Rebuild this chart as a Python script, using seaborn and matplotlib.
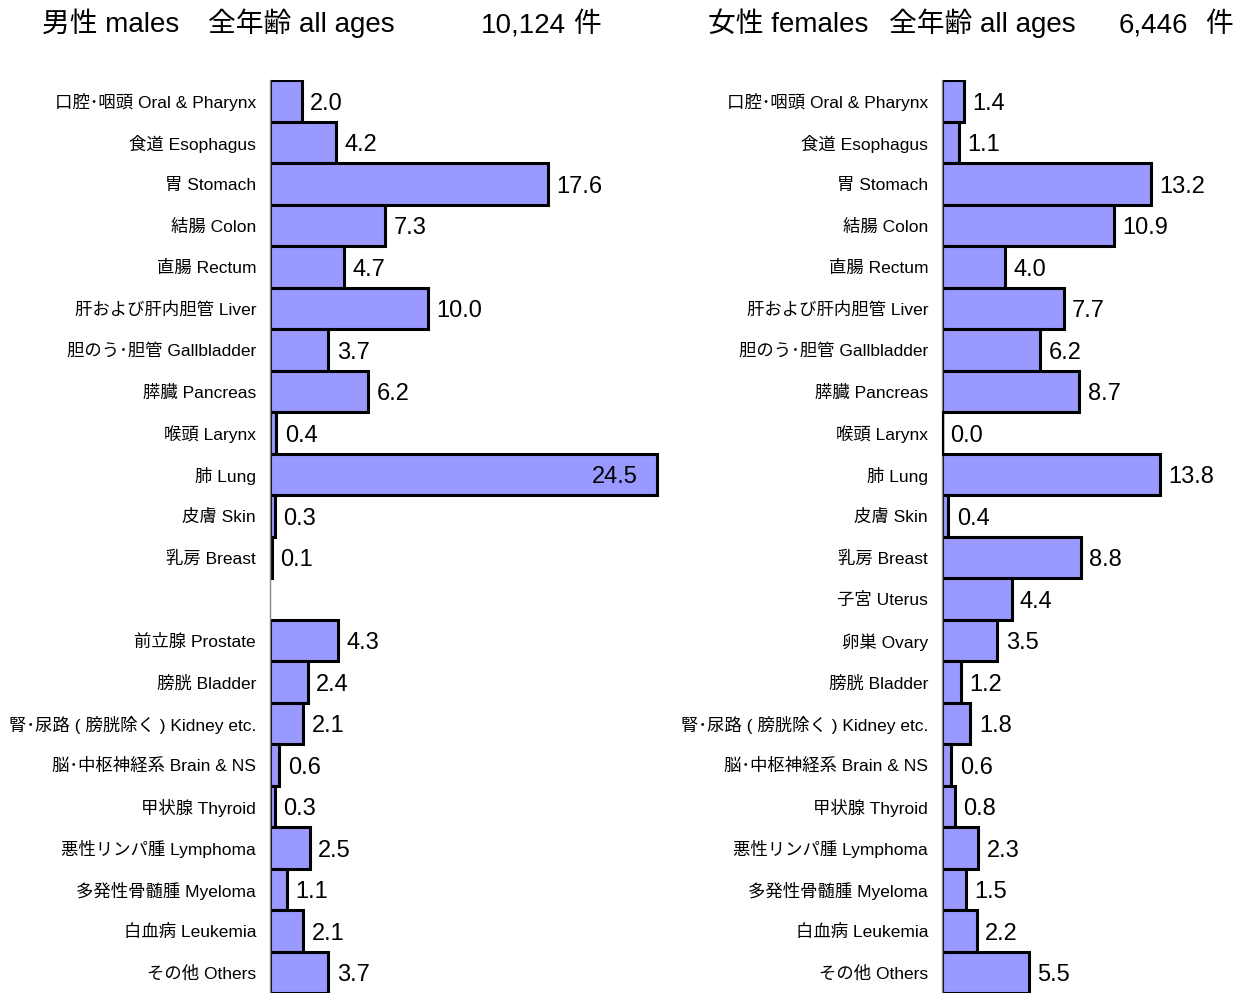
import pandas as pd
import seaborn as sns
import matplotlib.pyplot as plt

# category labels (blank slot in the male list leaves the gap after Breast)
male_sites = ['口腔･咽頭 Oral & Pharynx', '食道 Esophagus', '胃 Stomach', '結腸 Colon',
              '直腸 Rectum', '肝および肝内胆管 Liver', '胆のう･胆管 Gallbladder', '膵臓 Pancreas',
              '喉頭 Larynx', '肺 Lung', '皮膚 Skin', '乳房 Breast', ' ',
              '前立腺 Prostate', '膀胱 Bladder', '腎･尿路 ( 膀胱除く ) Kidney etc.',
              '脳･中枢神経系 Brain & NS', '甲状腺 Thyroid', '悪性リンパ腫 Lymphoma',
              '多発性骨髄腫 Myeloma', '白血病 Leukemia', 'その他 Others']
male_pct = [2.0, 4.2, 17.6, 7.3, 4.7, 10.0, 3.7, 6.2, 0.4, 24.5, 0.3, 0.1, None,
            4.3, 2.4, 2.1, 0.6, 0.3, 2.5, 1.1, 2.1, 3.7]

female_sites = ['口腔･咽頭 Oral & Pharynx', '食道 Esophagus', '胃 Stomach', '結腸 Colon',
                '直腸 Rectum', '肝および肝内胆管 Liver', '胆のう･胆管 Gallbladder', '膵臓 Pancreas',
                '喉頭 Larynx', '肺 Lung', '皮膚 Skin', '乳房 Breast', '子宮 Uterus', '卵巣 Ovary',
                '膀胱 Bladder', '腎･尿路 ( 膀胱除く ) Kidney etc.', '脳･中枢神経系 Brain & NS',
                '甲状腺 Thyroid', '悪性リンパ腫 Lymphoma', '多発性骨髄腫 Myeloma',
                '白血病 Leukemia', 'その他 Others']
female_pct = [1.4, 1.1, 13.2, 10.9, 4.0, 7.7, 6.2, 8.7, 0.0, 13.8, 0.4, 8.8, 4.4, 3.5,
              1.2, 1.8, 0.6, 0.8, 2.3, 1.5, 2.2, 5.5]

male_total = '10,124'
female_total = '6,446'

FONTS = ['Liberation Sans', 'Noto Sans CJK JP', 'DejaVu Sans']
BAR_COLOR = '#9999ff'

sns.set_style('white')
plt.rcParams['font.family'] = FONTS
plt.rcParams['text.color'] = 'black'


def draw_panel(ax, sites, pct, xmax):
    df = pd.DataFrame({'site': sites, 'pct': pct}).dropna()
    sns.barplot(data=df, x='pct', y='site', order=sites, color=BAR_COLOR,
                saturation=1, width=1.0, edgecolor='black', linewidth=2.2, ax=ax)
    ax.set_xlim(0, xmax)
    ax.set_ylim(len(sites) - 0.5, -0.5)
    ax.set_xlabel('')
    ax.set_ylabel('')
    ax.set_xticks([])
    ax.tick_params(axis='y', length=0, pad=10, labelsize=12.5, labelcolor='black')
    for side in ['top', 'right', 'bottom']:
        ax.spines[side].set_visible(False)
    ax.spines['left'].set_color('#888888')
    ax.spines['left'].set_linewidth(1.0)

    # value labels
    for i, v in enumerate(pct):
        if v is None:
            continue
        if v == 0:
            ax.axvline(0, ymin=1 - (i + 1) / len(sites), ymax=1 - i / len(sites),
                       color='black', linewidth=2.5, zorder=5)
        if v > xmax * 0.9:
            ax.annotate(f'{v:.1f}', (v, i), xytext=(-14, -2), textcoords='offset points',
                        ha='right', va='center', fontsize=17, color='black')
        else:
            ax.annotate(f'{v:.1f}', (v, i), xytext=(6, -2), textcoords='offset points',
                        ha='left', va='center', fontsize=17, color='black')


fig = plt.figure(figsize=(12.42, 9.93), dpi=100)
px = 15.8  # pixels per percent
ax_m = fig.add_axes([270 / 1242, 0, 395 / 1242, 913 / 993])
ax_f = fig.add_axes([942 / 1242, 0, 300 / 1242, 913 / 993])

draw_panel(ax_m, male_sites, male_pct, 395 / px)
draw_panel(ax_f, female_sites, female_pct, 300 / px)

# panel headings
ty = 1 - 32 / 993
fig.text(42 / 1242, ty, '男性 males', fontsize=20, va='baseline')
fig.text(208 / 1242, ty, '全年齢 all ages', fontsize=20, va='baseline')
fig.text(481 / 1242, ty, male_total, fontsize=20, va='baseline')
fig.text(573 / 1242, ty, '件', fontsize=20, va='baseline')
fig.text(708 / 1242, ty, '女性 females', fontsize=20, va='baseline')
fig.text(889 / 1242, ty, '全年齢 all ages', fontsize=20, va='baseline')
fig.text(1119 / 1242, ty, female_total, fontsize=20, va='baseline')
fig.text(1205 / 1242, ty, '件', fontsize=20, va='baseline')

fig.savefig('out.png', dpi=100)
